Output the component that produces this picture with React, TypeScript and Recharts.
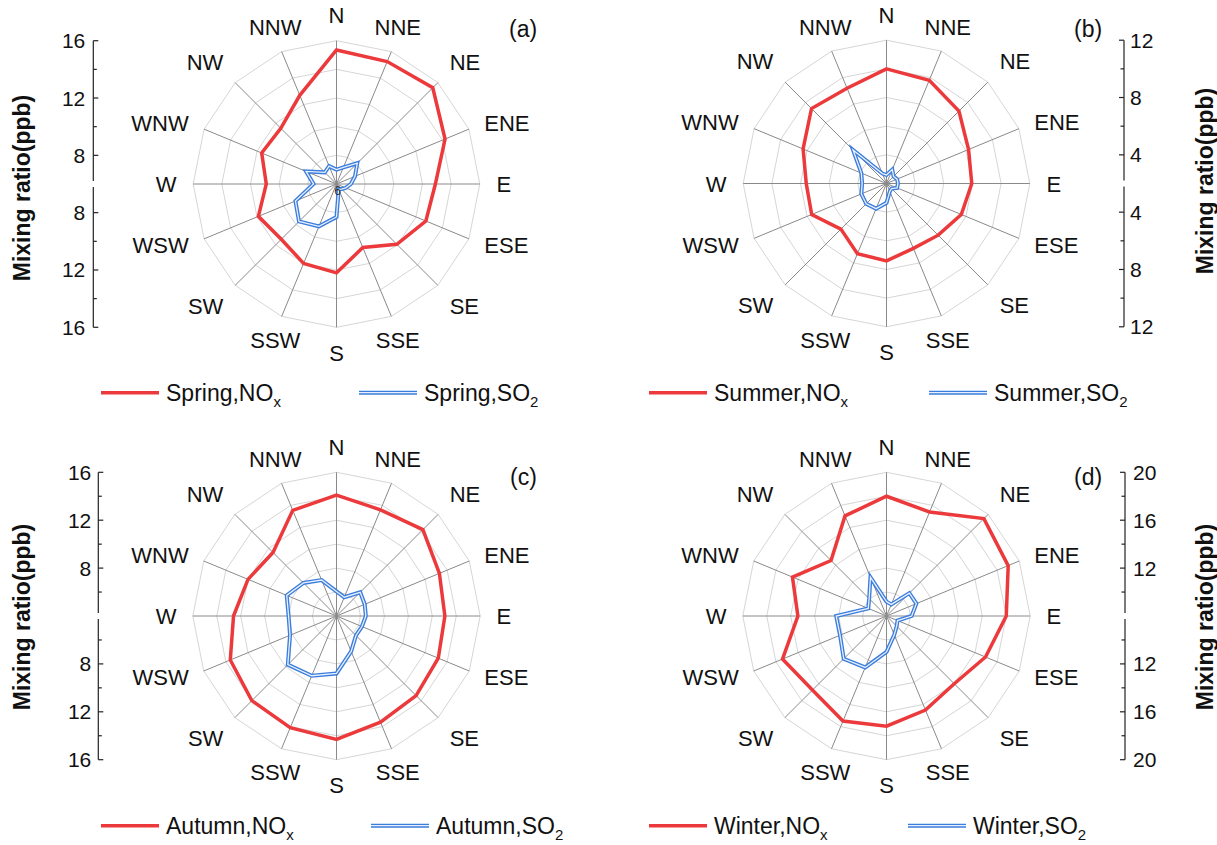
import React from 'react'
import { RadarChart, Radar, PolarGrid, PolarAngleAxis, PolarRadiusAxis } from 'recharts'

// wind sectors, clockwise from north
const DIRECTIONS = ['N', 'NNE', 'NE', 'ENE', 'E', 'ESE', 'SE', 'SSE', 'S', 'SSW', 'SW', 'WSW', 'W', 'WNW', 'NW', 'NNW']

// mixing ratios (ppb) per sector
const SPRING_NOX = [15.35, 15.25, 15.5, 14.2, 12.9, 12.75, 11.95, 10.8, 12.2, 12.0, 11.45, 11.9, 10.9, 11.65, 11.5, 12.7]
const SPRING_SO2 = [7.0, 7.25, 8.05, 7.4, 7.0, 6.7, 6.5, 6.4, 8.3, 9.2, 9.7, 9.1, 7.6, 8.3, 7.15, 7.35]
const SUMMER_NOX = [10.0, 9.8, 9.15, 8.2, 7.95, 7.65, 7.1, 6.9, 7.4, 7.3, 6.5, 7.65, 7.6, 8.3, 9.4, 9.2]
const SUMMER_SO2 = [2.6, 3.05, 2.7, 2.8, 2.8, 2.8, 2.5, 2.6, 3.35, 3.9, 4.0, 3.9, 3.7, 3.9, 5.3, 2.75]
const AUTUMN_NOX = [14.1, 13.6, 14.2, 13.3, 13.05, 13.2, 13.4, 13.6, 14.3, 14.1, 14.0, 13.6, 12.6, 12.0, 11.5, 13.55]
const AUTUMN_SO2 = [6.05, 5.7, 6.8, 6.55, 6.45, 6.3, 6.3, 7.2, 8.8, 9.4, 9.75, 8.2, 8.0, 8.5, 7.9, 7.25]
const WINTER_NOX = [18.0, 17.4, 19.5, 19.0, 18.0, 16.95, 16.0, 16.5, 17.2, 17.5, 16.75, 17.4, 15.4, 16.5, 14.55, 17.05]
const WINTER_SO2 = [9.2, 9.05, 10.7, 10.7, 10.1, 9.0, 9.2, 9.7, 11.0, 12.65, 13.05, 12.2, 12.2, 9.65, 10.05, 11.5]

// radial scales and tick values of the side axes
const DOMAIN_A = [6, 16]
const DOMAIN_B = [2, 12]
const DOMAIN_C = [4, 16]
const DOMAIN_D = [8, 20]
const RINGS_A = [6, 8, 10, 12, 14, 16]
const RINGS_B = [2, 4, 6, 8, 10, 12]
const RINGS_C = [4, 6, 8, 10, 12, 14, 16]
const RINGS_D = [8, 10, 12, 14, 16, 18, 20]
const MAJOR_A = [8, 12, 16]
const MAJOR_B = [4, 8, 12]
const MAJOR_C = [8, 12, 16]
const MAJOR_D = [12, 16, 20]

const RED = '#ec3a3c'
const BLUE = '#3b7ddd'
const BLUE_IN = '#e8f0fd'
const RING = '#d6d6d6'
const SPOKE = '#8a8a8a'
const FONT = '"Liberation Sans", Arial, sans-serif'
const LABEL_R = 160

const build = (nox: number[], so2: number[]) => DIRECTIONS.map((dir, i) => ({ dir, nox: nox[i], so2: so2[i] }))

function makeTick(cx: number, cy: number) {
  return (props: any) => {
    const { payload } = props
    const idx = DIRECTIONS.indexOf(payload.value)
    const deg = typeof payload.coordinate === 'number' ? payload.coordinate : 90 - idx * 22.5
    const ux = Math.cos((deg * Math.PI) / 180)
    const uy = -Math.sin((deg * Math.PI) / 180)
    const px = cx + LABEL_R * ux
    const py = cy + LABEL_R * uy
    const anchor = ux > 0.5 ? 'start' : ux < -0.5 ? 'end' : 'middle'
    const base = uy < -0.5 ? py - 1 : uy > 0.5 ? py + 16.5 : py + 8
    return (
      <text x={px} y={base} textAnchor={anchor} fontSize={22} fontFamily={FONT} fill="#111">
        {payload.value}
      </text>
    )
  }
}

function Panel({ left, top, cx, cy, r, data, domain, rings }: any) {
  return (
    <div style={{ position: 'absolute', left, top }}>
      <RadarChart width={600} height={430} data={data} cx={cx} cy={cy} outerRadius={r} margin={{ top: 0, right: 0, bottom: 0, left: 0 }}>
        <PolarGrid gridType="polygon" radialLines={false} stroke={RING} strokeWidth={1} />
        <PolarGrid gridType="polygon" polarRadius={[]} stroke={SPOKE} strokeWidth={1} />
        <PolarAngleAxis dataKey="dir" tick={makeTick(cx, cy)} tickLine={false} axisLine={false} />
        <PolarRadiusAxis type="number" domain={domain} ticks={rings} tickCount={rings.length} tick={false} axisLine={false} />
        <Radar name="nox" dataKey="nox" stroke={RED} strokeWidth={3.5} fill="none" fillOpacity={0} dot={false} isAnimationActive={false} />
        <Radar name="so2" dataKey="so2" stroke={BLUE} strokeWidth={4} fill="none" fillOpacity={0} dot={false} isAnimationActive={false} />
        <Radar name="so2-inner" dataKey="so2" stroke={BLUE_IN} strokeWidth={1.3} fill="none" fillOpacity={0} dot={false} isAnimationActive={false} />
      </RadarChart>
    </div>
  )
}

// split vertical scale beside each rose: value grows away from the centre, both up and down
function SideAxis({ x, cy, r, domain, rings, major, side, gap }: any) {
  const [lo, hi] = domain
  const off = (v: number) => ((v - lo) / (hi - lo)) * r
  const dir = side === 'left' ? 1 : -1
  const items: React.ReactNode[] = []
  rings.filter((v: number) => v > lo).forEach((v: number) => {
    const isMajor = major.includes(v)
    const len = isMajor ? 5 : 3.5
    ;[cy - off(v), cy + off(v)].forEach((y, k) => {
      items.push(<line key={`t${v}-${k}`} x1={x} x2={x + dir * len} y1={y} y2={y} stroke="#222" strokeWidth={1.2} />)
      if (isMajor) {
        items.push(
          <text key={`l${v}-${k}`} x={x - dir * gap} y={y + 7.5} textAnchor={side === 'left' ? 'end' : 'start'} fontSize={21} fontFamily={FONT} fill="#111">
            {v}
          </text>
        )
      }
    })
  })
  return (
    <g>
      <line x1={x} x2={x} y1={cy - r} y2={cy - 3} stroke="#222" strokeWidth={1.2} />
      <line x1={x} x2={x} y1={cy + 3} y2={cy + r} stroke="#222" strokeWidth={1.2} />
      {items}
    </g>
  )
}

function Title({ x, y }: { x: number; y: number }) {
  return (
    <text transform={`translate(${x},${y}) rotate(-90)`} textAnchor="middle" fontSize={23} fontWeight="bold" fontFamily={FONT} fill="#111">
      Mixing ratio(ppb)
    </text>
  )
}

function LegendItem({ x, y, label, sub, blue }: any) {
  return (
    <g>
      {blue ? (
        <>
          <line x1={x} x2={x + 58} y1={y} y2={y} stroke={BLUE} strokeWidth={4} />
          <line x1={x} x2={x + 58} y1={y} y2={y} stroke={BLUE_IN} strokeWidth={1.3} />
        </>
      ) : (
        <line x1={x} x2={x + 58} y1={y} y2={y} stroke={RED} strokeWidth={3.5} />
      )}
      <text x={x + 65} y={y + 8} fontSize={23} fontFamily={FONT} fill="#111">
        {label}
        <tspan fontSize={15} dy={6}>{sub}</tspan>
      </text>
    </g>
  )
}

export default function App() {
  return (
    <div style={{ position: 'absolute', left: 0, top: 0, width: 1217, height: 845, background: '#fff', fontFamily: FONT }}>
      <Panel left={0} top={0} cx={336.5} cy={184} r={143.3} data={build(SPRING_NOX, SPRING_SO2)} domain={DOMAIN_A} rings={RINGS_A} />
      <Panel left={600} top={0} cx={286.5} cy={183.5} r={143.3} data={build(SUMMER_NOX, SUMMER_SO2)} domain={DOMAIN_B} rings={RINGS_B} />
      <Panel left={0} top={430} cx={336.5} cy={186} r={143.7} data={build(AUTUMN_NOX, AUTUMN_SO2)} domain={DOMAIN_C} rings={RINGS_C} />
      <Panel left={600} top={430} cx={286.5} cy={186} r={143.7} data={build(WINTER_NOX, WINTER_SO2)} domain={DOMAIN_D} rings={RINGS_D} />
      <svg width={1217} height={845} style={{ position: 'absolute', left: 0, top: 0, pointerEvents: 'none' }}>
        <SideAxis x={93.3} cy={184} r={143.3} domain={DOMAIN_A} rings={RINGS_A} major={MAJOR_A} side="left" gap={8} />
        <SideAxis x={1124} cy={183.5} r={143.3} domain={DOMAIN_B} rings={RINGS_B} major={MAJOR_B} side="right" gap={6} />
        <SideAxis x={98.3} cy={616} r={143.7} domain={DOMAIN_C} rings={RINGS_C} major={MAJOR_C} side="left" gap={7} />
        <SideAxis x={1125} cy={616} r={143.7} domain={DOMAIN_D} rings={RINGS_D} major={MAJOR_D} side="right" gap={8} />
        <Title x={30} y={188} />
        <Title x={1213} y={181} />
        <Title x={30} y={617} />
        <Title x={1213} y={617} />
        <text x={509} y={37} fontSize={23} fontFamily={FONT} fill="#111">(a)</text>
        <text x={1074} y={37} fontSize={23} fontFamily={FONT} fill="#111">(b)</text>
        <text x={510} y={485} fontSize={23} fontFamily={FONT} fill="#111">(c)</text>
        <text x={1074} y={485} fontSize={23} fontFamily={FONT} fill="#111">(d)</text>
        <text x={337.5} y={195} textAnchor="middle" fontSize={12} fontFamily={FONT} fill="#333">6</text>
        <LegendItem x={101} y={392.7} label="Spring,NO" sub="x" />
        <LegendItem x={359} y={392.7} label="Spring,SO" sub="2" blue />
        <LegendItem x={649} y={392.7} label="Summer,NO" sub="x" />
        <LegendItem x={929} y={392.7} label="Summer,SO" sub="2" blue />
        <LegendItem x={101} y={825.7} label="Autumn,NO" sub="x" />
        <LegendItem x={371} y={825.7} label="Autumn,SO" sub="2" blue />
        <LegendItem x={649} y={825.7} label="Winter,NO" sub="x" />
        <LegendItem x={908} y={825.7} label="Winter,SO" sub="2" blue />
      </svg>
    </div>
  )
}
